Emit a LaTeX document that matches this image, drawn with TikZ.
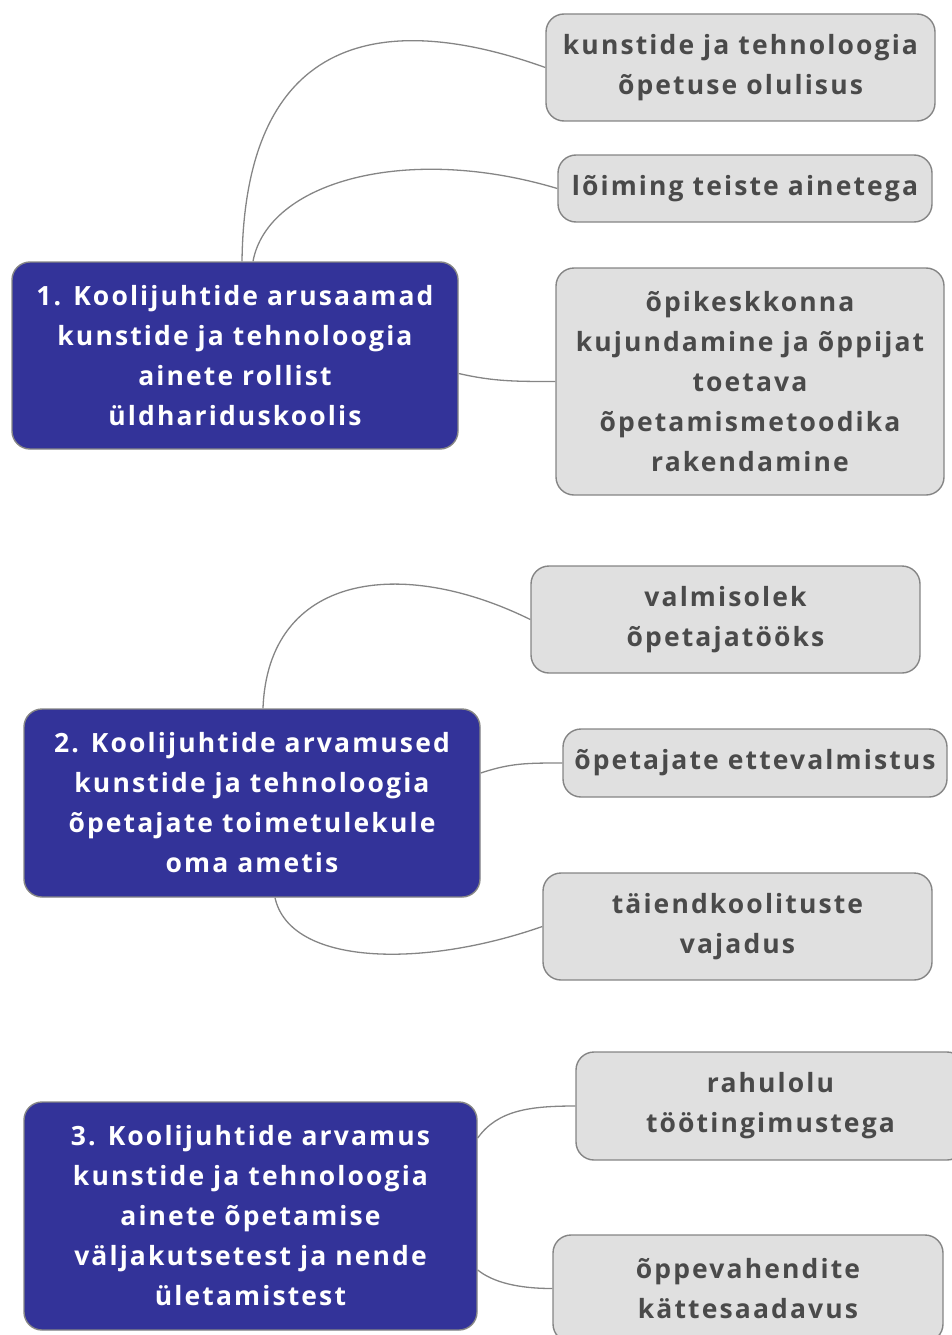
\documentclass[tikz,border=0pt]{standalone}
\usepackage{fontspec}
\setmainfont{Open Sans}[LetterSpace=8]
\usepackage{xcolor}
\usepackage{tikz}
\definecolor{topicblue}{HTML}{333399}
\definecolor{leafgray}{HTML}{E0E0E0}
\definecolor{edgegray}{HTML}{858585}
\definecolor{textgray}{HTML}{4A4A4A}
\tikzset{
  topic/.style={rectangle, draw=edgegray, line width=1.4pt, rounded corners=18pt,
                fill=topicblue, text=white, align=center, inner sep=0pt,
                font=\bfseries\fontsize{26.5}{40}\selectfont},
  leaf/.style={rectangle, draw=edgegray, line width=1.4pt, rounded corners=18pt,
               fill=leafgray, text=textgray, align=center, inner sep=0pt,
               font=\bfseries\fontsize{26.5}{40}\selectfont},
  link/.style={draw=edgegray, line width=1.3pt}
}

\begin{document}
\begin{tikzpicture}[x=1pt, y=-1pt]
    \useasboundingbox (0,0) rectangle (952,1335);

    % first topic
    \node[topic, minimum width=446pt, minimum height=187pt] (topicA) at (235,355.5)
        {1. Koolijuhtide arusaamad\\ kunstide ja tehnoloogia\\ ainete rollist\\ üldhariduskoolis};
    \node[leaf, minimum width=389pt, minimum height=107pt] (olulisus) at (740.5,67.5)
        {kunstide ja tehnoloogia\\ õpetuse olulisus};
    \node[leaf, minimum width=374pt, minimum height=67pt] (loiming) at (745,188.5)
        {lõiming teiste ainetega};
    \node[leaf, minimum width=388pt, minimum height=227pt] (opikeskkond) at (750,381.5)
        {õpikeskkonna\\ kujundamine ja õppijat\\ toetava\\ õpetamismetoodika\\ rakendamine};

    % second topic
    \node[topic, minimum width=456pt, minimum height=188pt] (topicB) at (252,803)
        {2. Koolijuhtide arvamused\\ kunstide ja tehnoloogia\\ õpetajate toimetulekule\\ oma ametis};
    \node[leaf, minimum width=389pt, minimum height=107pt] (valmisolek) at (725.5,619.5)
        {valmisolek\\ õpetajatööks};
    \node[leaf, minimum width=384pt, minimum height=68pt] (ettevalmistus) at (755,763)
        {õpetajate ettevalmistus};
    \node[leaf, minimum width=389pt, minimum height=107pt] (koolitused) at (737.5,926.5)
        {täiendkoolituste\\ vajadus};

    % third topic
    \node[topic, minimum width=453pt, minimum height=228pt] (topicC) at (250.5,1216)
        {3. Koolijuhtide arvamus\\ kunstide ja tehnoloogia\\ ainete õpetamise\\ väljakutsetest ja nende\\ ületamistest};
    \node[leaf, minimum width=389pt, minimum height=108pt] (rahulolu) at (770.5,1106)
        {rahulolu\\ töötingimustega};
    \node[leaf, minimum width=390pt, minimum height=107pt] (vahendid) at (748,1288.5)
        {õppevahendite\\ kättesaadavus};

    \draw[link] ([xshift=7pt]topicA.north) .. controls +(3,-242) and +(-145,-52) .. (olulisus.west);
    \draw[link] ([xshift=18pt]topicA.north) .. controls +(15,-80) and +(-150,-45) .. (loiming.west);
    \draw[link] ([yshift=-18pt]topicA.east) .. controls +(35,8) and +(-40,0) .. (opikeskkond.west);

    \draw[link] ([xshift=11pt]topicB.north) .. controls +(5,-134) and +(-130,-64) .. (valmisolek.west);
    \draw[link] ([yshift=30pt]topicB.east) .. controls +(30,-10) and +(-35,0) .. (ettevalmistus.west);
    \draw[link] ([xshift=23pt]topicB.south) .. controls +(15,68) and +(-120,42) .. (koolitused.west);

    \draw[link] ([yshift=78pt]topicC.east) .. controls +(20,-28) and +(-45,0) .. (rahulolu.west);
    \draw[link] ([yshift=-54pt]topicC.east) .. controls +(15,12) and +(-35,0) .. (vahendid.west);
\end{tikzpicture}
\end{document}
